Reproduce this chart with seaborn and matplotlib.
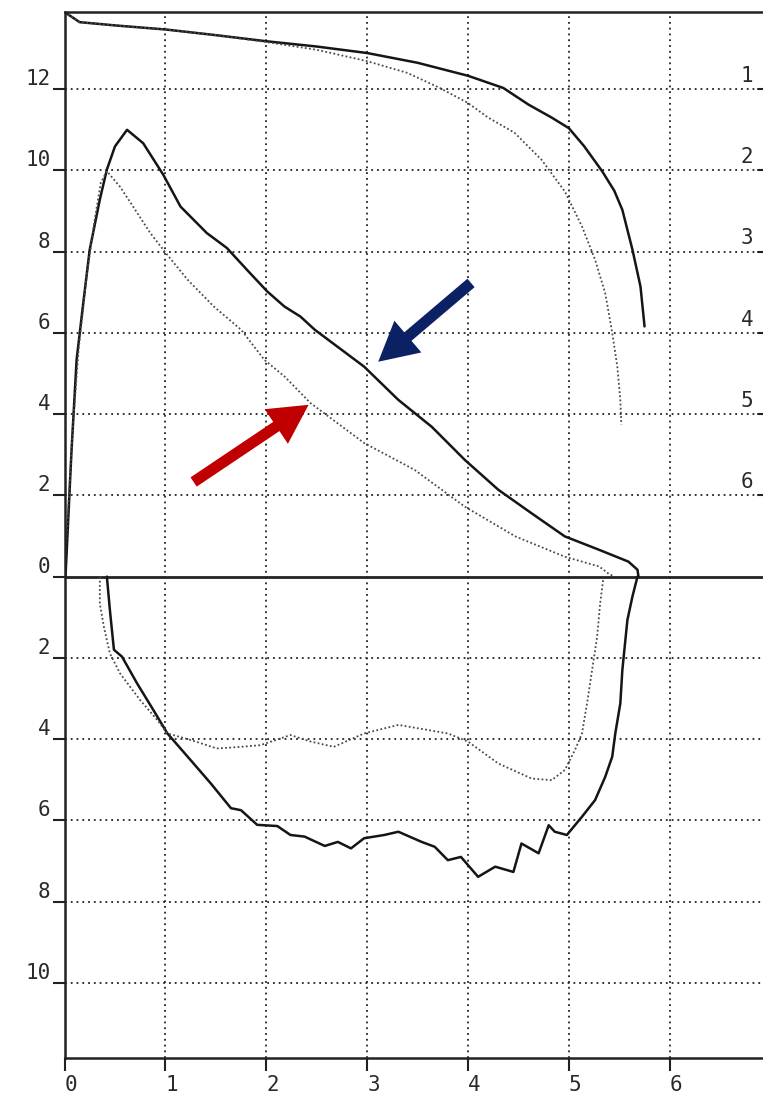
import numpy as np
import pandas as pd
import matplotlib
matplotlib.use("Agg")
import matplotlib.pyplot as plt
import matplotlib.transforms as mtransforms
import seaborn as sns

# ---------------- data ----------------
# volume-time style curves (upper part)
vt_solid_x = [0.0, 0.03, 0.15, 0.5, 1.0, 1.5, 2.0, 2.5, 3.0, 3.5, 4.0, 4.35, 4.6, 4.83, 5.0, 5.15, 5.33, 5.45, 5.53, 5.63, 5.71, 5.75]
vt_solid_y = [13.9, 13.85, 13.65, 13.57, 13.47, 13.33, 13.18, 13.05, 12.89, 12.65, 12.33, 12.03, 11.62, 11.3, 11.04, 10.6, 9.98, 9.5, 9.03, 8.05, 7.14, 6.16]
vt_dot_x = [0.0, 0.03, 0.15, 0.5, 1.0, 1.5, 2.0, 2.5, 3.0, 3.4, 3.72, 4.0, 4.2, 4.46, 4.73, 4.96, 5.13, 5.26, 5.36, 5.43, 5.48, 5.51, 5.52]
vt_dot_y = [13.9, 13.85, 13.65, 13.57, 13.47, 13.33, 13.16, 12.97, 12.69, 12.4, 12.03, 11.66, 11.3, 10.93, 10.26, 9.48, 8.62, 7.8, 6.98, 6.0, 5.17, 4.35, 3.74]

# expiratory flow-volume limbs
exp_solid_x = [0.01, 0.04, 0.07, 0.12, 0.19, 0.25, 0.35, 0.42, 0.50, 0.62, 0.78, 0.98, 1.15, 1.41, 1.61, 1.81, 2.01, 2.18, 2.34, 2.48, 2.97, 3.31, 3.64, 3.97, 4.30, 4.63, 4.96, 5.30, 5.59, 5.68, 5.69]
exp_solid_y = [0.0, 1.57, 3.12, 5.34, 6.82, 8.05, 9.28, 10.02, 10.59, 11.0, 10.67, 9.89, 9.11, 8.46, 8.09, 7.55, 7.02, 6.65, 6.40, 6.08, 5.17, 4.35, 3.69, 2.87, 2.14, 1.56, 0.99, 0.66, 0.37, 0.17, 0.0]
exp_dot_x = [0.0, 0.04, 0.08, 0.14, 0.22, 0.30, 0.36, 0.42, 0.55, 0.68, 0.85, 1.02, 1.22, 1.48, 1.75, 1.98, 2.18, 2.44, 2.97, 3.47, 3.97, 4.47, 4.96, 5.30, 5.39, 5.45]
exp_dot_y = [0.0, 1.8, 3.6, 5.6, 7.4, 8.8, 9.7, 9.98, 9.6, 9.11, 8.46, 7.92, 7.31, 6.65, 6.08, 5.34, 4.93, 4.27, 3.29, 2.63, 1.72, 0.99, 0.49, 0.25, 0.08, 0.0]

# inspiratory limbs (plotted below zero)
insp_solid_x = [0.42, 0.45, 0.49, 0.57, 0.72, 0.88, 1.02, 1.22, 1.45, 1.65, 1.75, 1.91, 2.11, 2.24, 2.38, 2.58, 2.71, 2.84, 2.97, 3.17, 3.31, 3.54, 3.67, 3.80, 3.93, 4.10, 4.27, 4.45, 4.53, 4.70, 4.80, 4.86, 4.98, 5.13, 5.26, 5.36, 5.43, 5.46, 5.51, 5.53, 5.58, 5.63, 5.68]
insp_solid_y = [0.0, -0.82, -1.80, -1.97, -2.63, -3.28, -3.86, -4.43, -5.09, -5.70, -5.75, -6.11, -6.14, -6.36, -6.40, -6.63, -6.53, -6.69, -6.44, -6.36, -6.28, -6.53, -6.65, -6.98, -6.90, -7.39, -7.14, -7.27, -6.57, -6.81, -6.12, -6.28, -6.36, -5.91, -5.50, -4.93, -4.43, -3.86, -3.12, -2.30, -1.07, -0.49, 0.0]
insp_dot_x = [0.35, 0.35, 0.39, 0.45, 0.55, 0.75, 0.92, 1.02, 1.25, 1.51, 1.75, 1.94, 2.24, 2.44, 2.67, 2.97, 3.31, 3.80, 4.00, 4.30, 4.63, 4.83, 4.96, 5.06, 5.13, 5.18, 5.23, 5.28, 5.31, 5.34]
insp_dot_y = [0.0, -0.66, -1.23, -1.89, -2.38, -3.04, -3.53, -3.86, -4.02, -4.23, -4.19, -4.15, -3.90, -4.06, -4.19, -3.86, -3.65, -3.86, -4.06, -4.60, -4.97, -5.01, -4.76, -4.27, -3.86, -3.12, -2.30, -1.48, -0.66, -0.08]

# ticks / labels
x_ticks = [0, 1, 2, 3, 4, 5, 6]
x_labels = ["0", "1", "2", "3", "4", "5", "6"]
y_ticks = [12, 10, 8, 6, 4, 2, 0, -2, -4, -6, -8, -10]
y_labels = ["12", "10", "8", "6", "4", "2", "0", "2", "4", "6", "8", "10"]
right_ticks = [12, 10, 8, 6, 4, 2]
right_labels = ["1", "2", "3", "4", "5", "6"]

# annotation arrows (tail -> tip, data coords)
blue_arrow = ((4.03, 7.23), (3.11, 5.29))
red_arrow = ((1.28, 2.33), (2.42, 4.23))

# ---------------- plot ----------------
sns.set_theme(style="white")
plt.rcParams["font.family"] = ["DejaVu Sans Mono", "DejaVu Sans"]

fig = plt.figure(figsize=(7.63, 10.93), dpi=100)
ax = fig.add_axes([64.5 / 763, 1 - 1058 / 1093, 1 - 64.5 / 763 + 0.01, (1058 - 12) / 1093])

solid_kw = dict(color="#151515", linewidth=1.8, sort=False, estimator=None, ax=ax)
dot_kw = dict(color="#4a4a4a", linewidth=1.3, linestyle=(0, (1, 1.3)), sort=False, estimator=None, ax=ax)

curves = [
    (vt_solid_x, vt_solid_y, solid_kw),
    (vt_dot_x, vt_dot_y, dot_kw),
    (exp_solid_x, exp_solid_y, solid_kw),
    (exp_dot_x, exp_dot_y, dot_kw),
    (insp_solid_x, insp_solid_y, solid_kw),
    (insp_dot_x, insp_dot_y, dot_kw),
]
for xs, ys, kw in curves:
    df = pd.DataFrame({"x": xs, "y": ys})
    sns.lineplot(data=df, x="x", y="y", **kw)

ax.set_xlim(0, 7.0)
ax.set_ylim(-11.85, 13.9)

ax.axhline(0, color="#222222", linewidth=2.0, zorder=1)

# grid
grid_kw = dict(color="#222222", linewidth=1.3, linestyle=(0, (1, 2.2)), zorder=0)
for gx in x_ticks[1:]:
    ax.axvline(gx, **grid_kw)
for gy in y_ticks:
    if gy != 0:
        ax.axhline(gy, **grid_kw)

# spines
for side in ["left", "top", "bottom"]:
    ax.spines[side].set_color("#222222")
    ax.spines[side].set_linewidth(1.8)
ax.spines["right"].set_visible(False)

ax.set_xticks(x_ticks)
ax.set_xticklabels(x_labels)
ax.set_yticks(y_ticks)
ax.set_yticklabels(y_labels)
ax.tick_params(axis="both", direction="out", length=9, width=1.5, color="#222222",
               labelsize=15, labelcolor="#2a2a2a", left=True, bottom=True)
ax.tick_params(axis="y", pad=1)
ax.tick_params(axis="x", pad=3)
for lab in ax.get_yticklabels():
    lab.set_verticalalignment("bottom")
for lab in ax.get_xticklabels():
    lab.set_horizontalalignment("left")
ax.set_xlabel("")
ax.set_ylabel("")

# right-hand labels
trans = mtransforms.blended_transform_factory(ax.transAxes, ax.transData)
for yv, txt in zip(right_ticks, right_labels):
    ax.text(0.958, yv + 0.08, txt, transform=trans, ha="left", va="bottom",
            fontsize=15, color="#2a2a2a")
    ax.plot([0.982, 1.0], [yv, yv], transform=trans, color="#222222", linewidth=1.5,
            clip_on=False)

# arrows
for (tail, tip), col in [(blue_arrow, "#0c2163"), (red_arrow, "#c00000")]:
    ax.annotate("", xy=tip, xytext=tail,
                arrowprops=dict(facecolor=col, edgecolor="none", width=8,
                                headwidth=30, headlength=28, shrink=0.0),
                zorder=5)

fig.savefig("out.png", dpi=100, facecolor="white")
